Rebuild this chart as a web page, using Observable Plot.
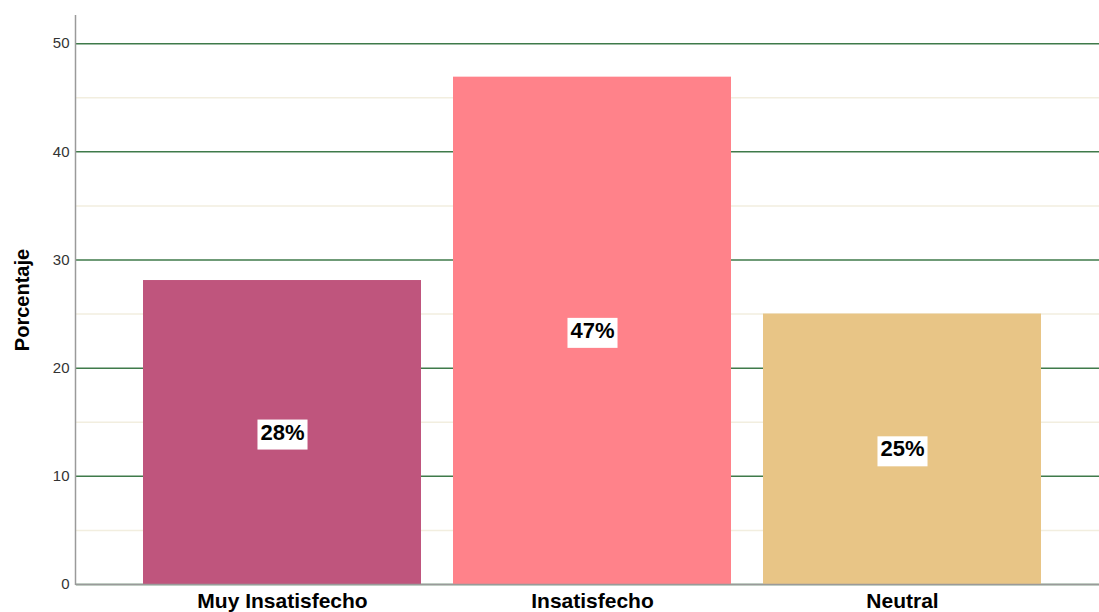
<!DOCTYPE html>
<html>
<head>
<meta charset="utf-8">
<script src="https://cdn.jsdelivr.net/npm/d3@7"></script>
<script src="https://cdn.jsdelivr.net/npm/@observablehq/plot@0.6"></script>
<style>
  html, body { margin: 0; padding: 0; background: white; }
</style>
</head>
<body>
<div id="chart"></div>
<script>
const categories = ["Muy Insatisfecho", "Insatisfecho", "Neutral"];
const values = [28.1, 46.9, 25.0];
const valueLabels = ["28%", "47%", "25%"];
const colors = ["#BF557D", "#FF828A", "#E8C586"];
const majorTicks = [0, 10, 20, 30, 40, 50];
const minorTicks = [5, 15, 25, 35, 45];
const yLabel = ["Porcentaje"];

const data = categories.map((c, i) => ({cat: c, value: values[i], label: valueLabels[i], color: colors[i]}));

const axisLines = (index, scales, channels, dims) => {
  const g = d3.create("svg:g");
  const left = dims.marginLeft - 0.5;
  const top = dims.marginTop;
  const bottom = dims.height - dims.marginBottom;
  g.append("line").attr("x1", left).attr("x2", left).attr("y1", top).attr("y2", bottom + 1)
    .attr("stroke", "#9A9A9A").attr("stroke-width", 1.5);
  g.append("line").attr("x1", left).attr("x2", dims.width - dims.marginRight).attr("y1", bottom + 0.5).attr("y2", bottom + 0.5)
    .attr("stroke", "#9A9A9A").attr("stroke-width", 1.5);
  return g.node();
};

const plot = Plot.plot({
  width: 1099,
  height: 612,
  marginTop: 15,
  marginBottom: 28,
  marginLeft: 76,
  marginRight: 0,
  style: {fontFamily: "'Liberation Sans', Arial, sans-serif", background: "white"},
  x: {domain: categories, range: [127, 1057], paddingInner: 0.1032, paddingOuter: 0.0516, label: null},
  y: {domain: [0, 52.6], label: null},
  marks: [
    Plot.ruleY(minorTicks, {stroke: "#F2EEDF", strokeWidth: 1.5}),
    Plot.ruleY(majorTicks, {stroke: "#3F7A4A", strokeWidth: 1.5}),
    Plot.barY(data, {x: "cat", y: "value", fill: "color"}),
    axisLines,
    Plot.axisY(majorTicks, {tickSize: 0, tickPadding: 7, fontSize: 15, fill: "#333", label: null}),
    Plot.axisX({tickSize: 0, tickPadding: 9, fontSize: 21, fontWeight: "bold", fill: "black", label: null}),
    Plot.text(yLabel, {frameAnchor: "left", textAnchor: "middle", dx: -54, rotate: -90, fontSize: 20, fontWeight: "bold", fill: "black"}),
    Plot.text(data, {x: "cat", y: d => d.value / 2, text: "label", fontSize: 22, fontWeight: "bold", fill: "black"})
  ]
});

document.getElementById("chart").append(plot);

// white boxes behind the percentage labels
const pctSet = new Set(valueLabels);
d3.select(plot).selectAll('g[aria-label="text"] text').each(function() {
  if (!pctSet.has(this.textContent)) return;
  const b = this.getBBox();
  const t = this.getAttribute("transform");
  const r = document.createElementNS("http://www.w3.org/2000/svg", "rect");
  r.setAttribute("x", b.x - 3);
  r.setAttribute("y", b.y);
  r.setAttribute("width", b.width + 6);
  r.setAttribute("height", b.height + 5);
  r.setAttribute("fill", "white");
  if (t) r.setAttribute("transform", t);
  this.parentNode.insertBefore(r, this);
});
</script>
</body>
</html>
